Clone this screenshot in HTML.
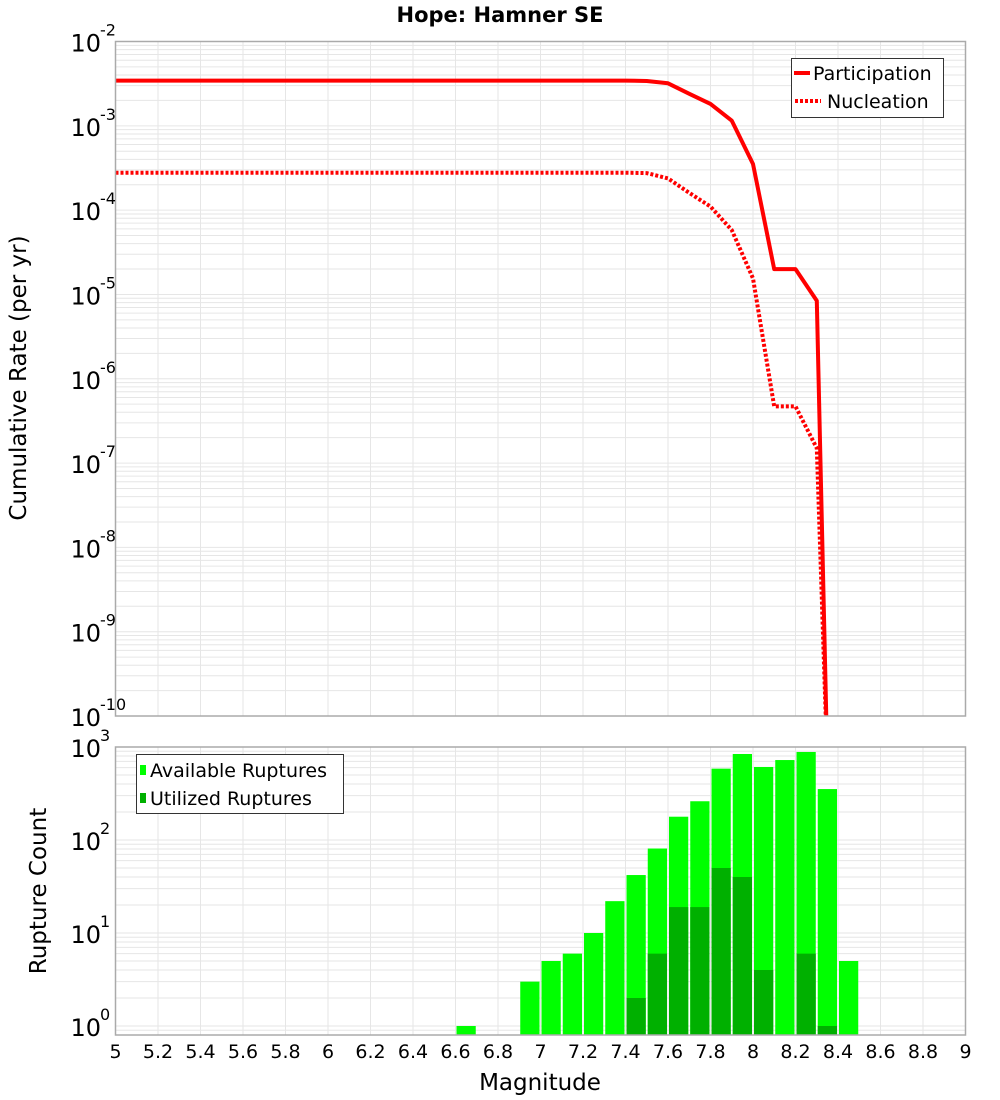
<!DOCTYPE html>
<html><head><meta charset="utf-8"><style>
body{margin:0;background:#fff;}
svg{display:block;font-family:"DejaVu Sans","Liberation Sans",sans-serif;}
</style></head><body>
<svg id="chart" width="1000" height="1100" xmlns="http://www.w3.org/2000/svg">
<text x="500" y="22" text-anchor="middle" font-size="21" font-weight="bold">Hope: Hamner SE</text>
<text transform="translate(26,378) rotate(-90)" text-anchor="middle" font-size="23">Cumulative Rate (per yr)</text>
<text transform="translate(46,891) rotate(-90)" text-anchor="middle" font-size="23">Rupture Count</text>
<text x="540" y="1090" text-anchor="middle" font-size="23">Magnitude</text>
<g id="grid"></g>
<g id="marks"></g>
<g id="axes"></g>
<g>
<rect x="791.5" y="58.5" width="152" height="59" fill="#fff" stroke="#333" stroke-width="1"/>
<line x1="794" y1="73" x2="810" y2="73" stroke="#f00" stroke-width="4"/>
<text x="813" y="80" font-size="19">Participation</text>
<line x1="795" y1="101" x2="821" y2="101" stroke="#f00" stroke-width="4" stroke-dasharray="3,2"/>
<text x="827" y="108" font-size="19">Nucleation</text>
</g>
<g>
<rect x="136.5" y="754.5" width="207" height="59" fill="#fff" stroke="#333" stroke-width="1"/>
<rect x="140" y="765" width="6" height="10" fill="#00ff00"/>
<text x="150" y="777" font-size="19">Available Ruptures</text>
<rect x="140" y="793" width="6" height="10" fill="#00b000"/>
<text x="150" y="805" font-size="19">Utilized Ruptures</text>
</g>
</svg>
<script>
// Top chart data
const lineMags = [5.0, 7.4, 7.5, 7.6, 7.7, 7.8, 7.9, 8.0, 8.1, 8.2, 8.3, 8.35];
const participation = [3.44e-3, 3.44e-3, 3.4e-3, 3.19e-3, 2.4e-3, 1.82e-3, 1.15e-3, 3.52e-4, 2.0e-5, 2.0e-5, 8.4e-6, 1e-12];
const nucleation = [2.78e-4, 2.78e-4, 2.75e-4, 2.38e-4, 1.6e-4, 1.1e-4, 5.8e-5, 1.55e-5, 4.7e-7, 4.7e-7, 1.5e-7, 1e-12];
const topTicks = ["-2","-3","-4","-5","-6","-7","-8","-9","-10"];
// Bottom chart data
const binStarts = [6.6, 6.9, 7.0, 7.1, 7.2, 7.3, 7.4, 7.5, 7.6, 7.7, 7.8, 7.9, 8.0, 8.1, 8.2, 8.3, 8.4];
const available = [1, 3, 5, 6, 10, 22, 42, 81, 178, 261, 585, 841, 610, 724, 884, 353, 5];
const utilized =  [0, 0, 0, 0, 0, 0, 2, 6, 19, 19, 50, 40, 4, 0, 6, 1, 0];
const bottomTicks = ["3","2","1","0"];
const xTicks = ["5","5.2","5.4","5.6","5.8","6","6.2","6.4","6.6","6.8","7","7.2","7.4","7.6","7.8","8","8.2","8.4","8.6","8.8","9"];

const NS = "http://www.w3.org/2000/svg";
const X0 = 115.5, X1 = 965.5;
const xs = m => X0 + (m - 5) / 4 * (X1 - X0);
const T0 = 41.5, T1 = 716;
const ys = v => T0 + (-2 - Math.log10(v)) * (T1 - T0) / 8;
const B0 = 747, B1 = 1035;
const yb = v => 1026 - Math.log10(v) * 93;
function mk(tag, attrs, parent){const e=document.createElementNS(NS,tag);for(const k in attrs)e.setAttribute(k,attrs[k]);parent.appendChild(e);return e;}
const grid = document.getElementById('grid'), marks = document.getElementById('marks'), axes = document.getElementById('axes');
const gc = "#e6e6e6";
// vertical grid
for (let i = 1; i < 20; i++) {
  const x = xs(5 + i * 0.2);
  let l = mk('line',{x1:x,x2:x,y1:T0,y2:T1,stroke:gc,'stroke-width':1},grid);
  
  
  l = mk('line',{x1:x,x2:x,y1:B0,y2:B1,stroke:gc,'stroke-width':1},grid);
  
  
}
// horizontal log grid top
for (let d = -10; d < -2; d++) for (let k = 1; k < 10; k++) {
  const y = ys(k * Math.pow(10, d));
  const l = mk('line',{x1:X0,x2:X1,y1:y,y2:y,stroke:gc,'stroke-width':1},grid);
  
  
}
for (let d = -1; d < 3; d++) for (let k = 1; k < 10; k++) {
  const y = yb(k * Math.pow(10, d));
  if (y < B0 || y > B1) continue;
  const l = mk('line',{x1:X0,x2:X1,y1:y,y2:y,stroke:gc,'stroke-width':1},grid);
  
  
}
// clip
const defs = mk('defs',{},marks);
const cp = mk('clipPath',{id:'topclip'},defs);
mk('rect',{x:X0,y:T0,width:X1-X0,height:T1-T0},cp);
function linePath(vals){return lineMags.map((m,i)=>(i?'L':'M')+xs(m).toFixed(1)+','+Math.min(ys(vals[i]),T1+50).toFixed(1)).join(' ');}
let p = mk('path',{d:linePath(participation),fill:'none',stroke:'#f00','stroke-width':4,'clip-path':'url(#topclip)','stroke-linejoin':'round'},marks);


p = mk('path',{d:linePath(nucleation),fill:'none',stroke:'#f00','stroke-width':4,'stroke-dasharray':'3,2','clip-path':'url(#topclip)'},marks);


// bars
binStarts.forEach((m,i)=>{
  const x = xs(m)+1, w = xs(m+0.1)-xs(m)-2;
  if (available[i] > 0) {
    const y = yb(available[i]);
    const r = mk('rect',{x:x,y:y,width:w,height:B1-y,fill:'#00ff00'},marks);
    
    
  }
  if (utilized[i] > 0) {
    const y = yb(utilized[i]);
    const r = mk('rect',{x:x,y:y,width:w,height:B1-y,fill:'#00b000'},marks);
    
    
  }
});
// frames
let f = mk('rect',{x:X0,y:T0,width:X1-X0,height:T1-T0,fill:'none',stroke:'#aaa','stroke-width':1.5},axes);


f = mk('rect',{x:X0,y:B0,width:X1-X0,height:B1-B0,fill:'none',stroke:'#aaa','stroke-width':1.5},axes);


function powLabel(y, exp, name){
  const t = mk('text',{x:101,y:y+10,'text-anchor':'end','font-size':24},axes);
  t.textContent = '10';
  
  
  const s = mk('text',{x:100,y:y-6,'font-size':16},axes);
  s.textContent = exp;
  
  
}
topTicks.forEach(e=>powLabel(ys(Math.pow(10,+e)), e, 'top-y-tick-label'));
bottomTicks.forEach(e=>powLabel(yb(Math.pow(10,+e)), e, 'bottom-y-tick-label'));
xTicks.forEach(t=>{
  const el = mk('text',{x:xs(+t),y:1058,'text-anchor':'middle','font-size':19},axes);
  el.textContent = t;
  
  
});
</script>
</body></html>
